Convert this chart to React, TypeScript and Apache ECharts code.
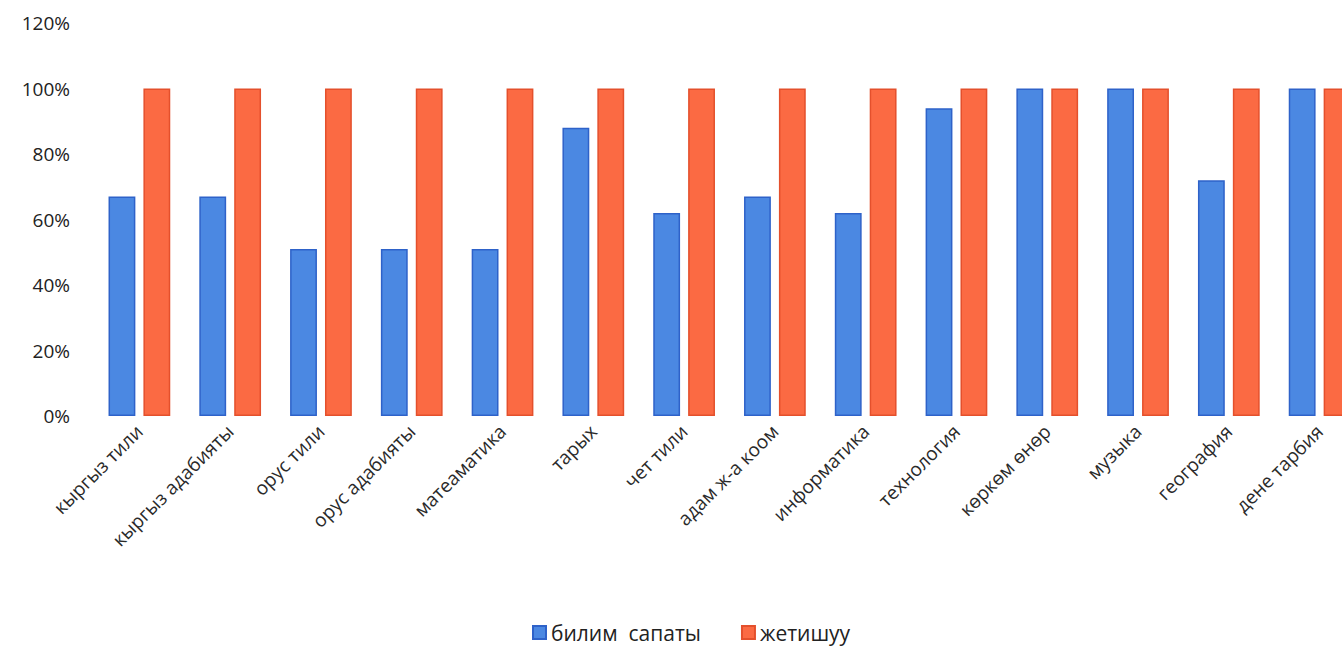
import React, { useEffect, useRef } from "react";
import * as echarts from "echarts";

const categories = [
  "кыргыз тили",
  "кыргыз адабияты",
  "орус тили",
  "орус адабияты",
  "матеаматика",
  "тарых",
  "чет тили",
  "адам ж-а коом",
  "информатика",
  "технология",
  "көркөм өнөр",
  "музыка",
  "география",
  "дене тарбия",
];
const bilimSapaty = [67, 67, 51, 51, 51, 88, 62, 67, 62, 94, 100, 100, 72, 100];
const jetishuu = [100, 100, 100, 100, 100, 100, 100, 100, 100, 100, 100, 100, 100, 100];
const seriesNames = ["билим  сапаты", "жетишуу"];

export default function App() {
  const ref = useRef<HTMLDivElement>(null);
  useEffect(() => {
    if (!ref.current) return;
    const chart = echarts.init(ref.current, undefined, { renderer: "svg" });
    const font = "'Open Sans', 'Noto Sans', sans-serif";
    chart.setOption({
      animation: false,
      backgroundColor: "#ffffff",
      textStyle: { fontFamily: font },
      grid: { left: 94, right: 0, top: 23, bottom: 234, containLabel: false },
      legend: {
        bottom: 2,
        left: 527,
        itemWidth: 13,
        itemHeight: 13,
        itemGap: 40,
        icon: "rect",
        textStyle: { fontSize: 21, color: "#222", fontFamily: font },
        data: seriesNames,
      },
      xAxis: {
        type: "category",
        data: categories,
        axisLine: { show: false },
        axisTick: { show: false },
        axisLabel: {
          rotate: 45,
          interval: 0,
          margin: 12,
          fontSize: 19,
          color: "#2a2a2a",
          fontFamily: font,
        },
      },
      yAxis: {
        type: "value",
        min: 0,
        max: 120,
        interval: 20,
        splitLine: { show: false },
        axisLine: { show: false },
        axisTick: { show: false },
        axisLabel: {
          formatter: "{value}%",
          fontSize: 19,
          color: "#222",
          margin: 24,
          fontFamily: font,
        },
      },
      series: [
        {
          name: seriesNames[0],
          type: "bar",
          data: bilimSapaty,
          barGap: "30%",
          barCategoryGap: "32%",
          itemStyle: { color: "#4b88e2", borderColor: "#2e62c9", borderWidth: 1.5 },
        },
        {
          name: seriesNames[1],
          type: "bar",
          data: jetishuu,
          itemStyle: { color: "#fb6a43", borderColor: "#e4502c", borderWidth: 1.5 },
        },
      ],
    });
    return () => chart.dispose();
  }, []);
  return (
    <div style={{ position: "fixed", left: 0, top: 0, width: 1342, height: 650, overflow: "hidden" }}>
      <div ref={ref} style={{ position: "absolute", left: 0, top: 0, width: 1365, height: 650 }} />
    </div>
  );
}
